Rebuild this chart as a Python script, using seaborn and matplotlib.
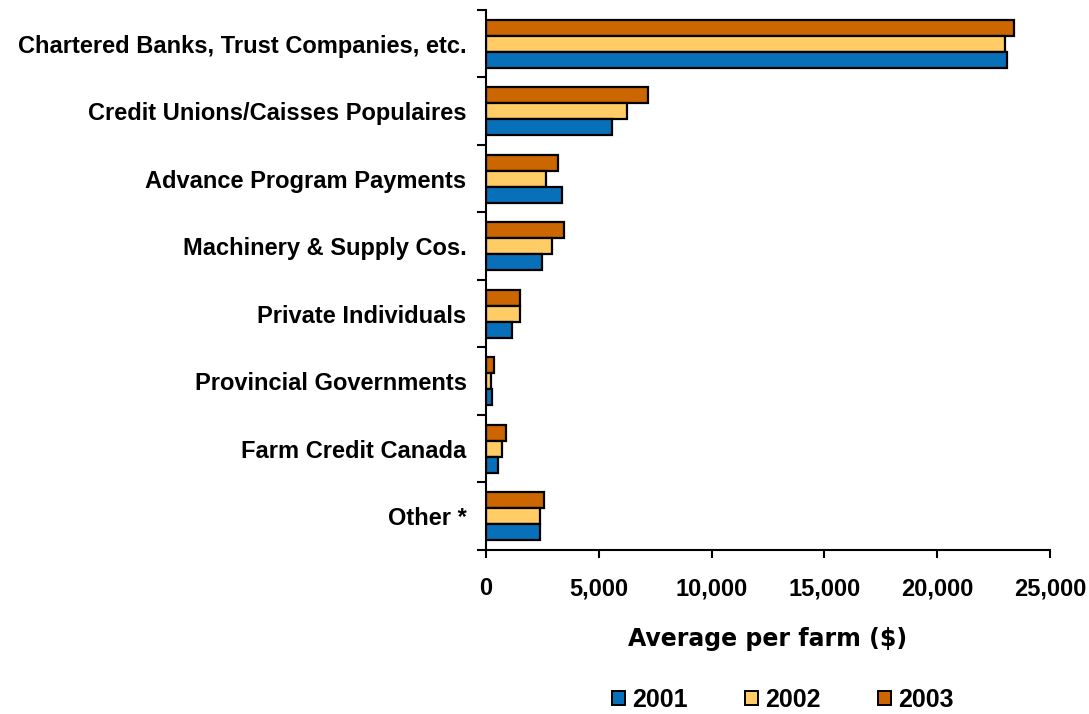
import matplotlib
matplotlib.use("Agg")
import matplotlib.pyplot as plt
from matplotlib.patches import Patch
from matplotlib.ticker import FuncFormatter, FixedLocator
import seaborn as sns
import pandas as pd

categories = [
    "Chartered Banks, Trust Companies, etc.",
    "Credit Unions/Caisses Populaires",
    "Advance Program Payments",
    "Machinery & Supply Cos.",
    "Private Individuals",
    "Provincial Governments",
    "Farm Credit Canada",
    "Other *",
]
years = ["2001", "2002", "2003"]
values_2001 = [23100, 5600, 3380, 2480, 1150, 250, 530, 2390]
values_2002 = [23000, 6250, 2650, 2920, 1500, 220, 700, 2390]
values_2003 = [23400, 7200, 3200, 3450, 1500, 350, 880, 2570]
colors = {"2001": "#0870B8", "2002": "#FFCC66", "2003": "#CC6600"}

df = pd.DataFrame({
    "source": categories * 3,
    "year": ["2001"] * 8 + ["2002"] * 8 + ["2003"] * 8,
    "amount": values_2001 + values_2002 + values_2003,
})

sns.set_style("white")
plt.rcParams["font.family"] = ["Liberation Sans", "DejaVu Sans"]
plt.rcParams["text.color"] = "black"
plt.rcParams["xtick.color"] = "black"
plt.rcParams["ytick.color"] = "black"
plt.rcParams["axes.labelcolor"] = "black"

fig = plt.figure(figsize=(10.89, 7.14), dpi=100)
ax = fig.add_axes([0.4463, 0.2297, 0.9642 - 0.4463, 0.986 - 0.2297])

sns.barplot(
    data=df, y="source", x="amount", hue="year",
    order=categories, hue_order=["2003", "2002", "2001"],
    palette=colors, orient="h", width=0.71, ax=ax,
    edgecolor="black", linewidth=1.6, legend=False, saturation=1,
)

ax.set_xlim(0, 25000)
ax.set_ylim(len(categories) - 0.5, -0.5)
ax.set_xticks([0, 5000, 10000, 15000, 20000, 25000])
ax.xaxis.set_major_formatter(FuncFormatter(lambda v, p: f"{int(v):,}"))
ax.tick_params(axis="x", which="major", bottom=True, direction="out", length=5.8,
               width=1.5, pad=14, labelsize=17)
for lbl in ax.get_xticklabels():
    lbl.set_fontweight("bold")

# category names without marks; boundary ticks drawn as minor ticks
ax.tick_params(axis="y", which="major", left=False, length=0, pad=14, labelsize=17)
for lbl in ax.get_yticklabels():
    lbl.set_fontweight("bold")
ax.yaxis.set_minor_locator(FixedLocator([i - 0.5 for i in range(len(categories) + 1)]))
ax.tick_params(axis="y", which="minor", left=True, direction="out", length=6.5, width=1.5)

for side in ["top", "right"]:
    ax.spines[side].set_visible(False)
for side in ["left", "bottom"]:
    ax.spines[side].set_color("black")
    ax.spines[side].set_linewidth(1.5)

ax.set_ylabel("")
ax.set_xlabel("Average per farm ($)", fontsize=17, fontweight="bold",
              family="DejaVu Sans", labelpad=19)

handles = [Patch(facecolor=colors[y], edgecolor="black", linewidth=1.4) for y in years]
fig.legend(handles, years, loc="center", bbox_to_anchor=(0.719, 0.02),
           ncol=3, frameon=False, prop={"weight": "bold", "size": 18},
           handlelength=0.5, handleheight=0.5, handletextpad=0.3,
           columnspacing=2.3, borderpad=0.2)

fig.savefig("out.png", dpi=100)
